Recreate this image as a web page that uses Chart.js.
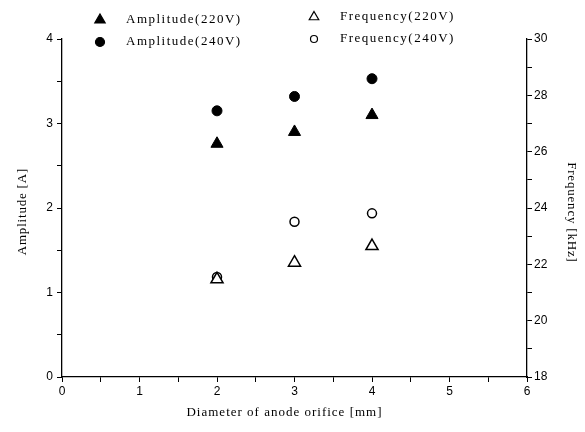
<!DOCTYPE html>
<html>
<head>
<meta charset="utf-8">
<script src="https://cdn.jsdelivr.net/npm/chart.js@4/dist/chart.umd.min.js"></script>
<style>
  html, body { margin: 0; padding: 0; background: #fff; }
  #wrap { width: 585px; height: 432px; }
</style>
</head>
<body>
<div id="wrap"><canvas id="c" width="585" height="432"></canvas></div>
<script>
// diameter of anode orifice [mm]
const diameters = [2, 3, 4];
// amplitude [A]
const amp220 = [2.76, 2.90, 3.10];
const amp240 = [3.15, 3.32, 3.53];
// frequency [kHz]
const freq220 = [21.47, 22.06, 22.65];
const freq240 = [21.55, 23.51, 23.81];

const legendLabels = ["Amplitude(220V)", "Amplitude(240V)", "Frequency(220V)", "Frequency(240V)"];
const xTitle = "Diameter of anode orifice [mm]";
const yTitle = "Amplitude [A]";
const y1Title = "Frequency [kHz]";

const serif = "'Liberation Serif', 'DejaVu Serif', serif";
const sans = "'Liberation Sans', Arial, sans-serif";

function pts(ys) {
  return diameters.map((x, i) => ({ x: x, y: ys[i] }));
}

function spacedText(ctx, text, x, y, angle, spacing) {
  ctx.save();
  ctx.translate(x, y);
  ctx.rotate(angle);
  ctx.letterSpacing = spacing + "px";
  ctx.textAlign = "center";
  ctx.textBaseline = "middle";
  ctx.fillText(text, spacing / 2, 0);
  ctx.restore();
}

// legend + axis titles drawn by hand (the original uses wide letter spacing)
const annotate = {
  id: "annotate",
  afterDraw(chart) {
    const ctx = chart.ctx;
    const items = [
      { x: 100, y: 20, style: "triangle", fill: true, text: legendLabels[0] },
      { x: 100, y: 42, style: "circle", fill: true, text: legendLabels[1] },
      { x: 314, y: 17, style: "triangle", fill: false, text: legendLabels[2] },
      { x: 314, y: 39, style: "circle", fill: false, text: legendLabels[3] }
    ];
    ctx.save();
    items.forEach(it => {
      ctx.beginPath();
      if (it.style === "triangle") {
        const r = it.fill ? 6 : 5.5;
        ctx.moveTo(it.x, it.y - r);
        ctx.lineTo(it.x + r * 0.866, it.y + r / 2);
        ctx.lineTo(it.x - r * 0.866, it.y + r / 2);
        ctx.closePath();
      } else {
        ctx.arc(it.x, it.y, it.fill ? 4.5 : 3.5, 0, Math.PI * 2);
      }
      ctx.lineWidth = 1.2;
      ctx.strokeStyle = "#000";
      ctx.fillStyle = it.fill ? "#000" : "#fff";
      ctx.fill();
      ctx.stroke();
      ctx.fillStyle = "#000";
      ctx.font = "13px " + serif;
      ctx.textBaseline = "middle";
      ctx.textAlign = "left";
      ctx.letterSpacing = "1.5px";
      ctx.fillText(it.text, it.x + 26, it.y);
      ctx.letterSpacing = "0px";
    });

    ctx.fillStyle = "#000";
    ctx.font = "13px " + serif;
    const midY = 212;
    spacedText(ctx, xTitle, 284, 413, 0, 1.0);
    spacedText(ctx, yTitle, 23, midY, -Math.PI / 2, 0.8);
    spacedText(ctx, y1Title, 571, midY, Math.PI / 2, 0.8);
    ctx.restore();
  }
};

const tickGrid = {
  display: true,
  drawOnChartArea: false,
  drawTicks: true,
  tickLength: 5,
  color: "#000",
  lineWidth: 1
};

new Chart(document.getElementById("c"), {
  type: "scatter",
  data: {
    datasets: [
      {
        label: legendLabels[0], data: pts(amp220), yAxisID: "y",
        pointStyle: "triangle", pointRadius: 7, pointHoverRadius: 7,
        backgroundColor: "#000", borderColor: "#000", borderWidth: 1, order: 1
      },
      {
        label: legendLabels[1], data: pts(amp240), yAxisID: "y",
        pointStyle: "circle", pointRadius: 5, pointHoverRadius: 5,
        backgroundColor: "#000", borderColor: "#000", borderWidth: 1, order: 2
      },
      {
        label: legendLabels[2], data: pts(freq220), yAxisID: "y1",
        pointStyle: "triangle", pointRadius: 7, pointHoverRadius: 7,
        backgroundColor: "#fff", borderColor: "#000", borderWidth: 1.5, order: 3
      },
      {
        label: legendLabels[3], data: pts(freq240), yAxisID: "y1",
        pointStyle: "circle", pointRadius: 4.5, pointHoverRadius: 4.5,
        backgroundColor: "#fff", borderColor: "#000", borderWidth: 1.5, order: 4
      }
    ]
  },
  options: {
    responsive: false,
    animation: false,
    events: [],
    layout: { padding: { top: 39, left: 0, right: 0, bottom: 0 } },
    plugins: {
      legend: { display: false },
      tooltip: { enabled: false }
    },
    scales: {
      x: {
        type: "linear", position: "bottom", min: 0, max: 6,
        afterFit(s) { s.height = 55; },
        grid: tickGrid,
        border: { display: true, color: "#000", width: 1.3 },
        ticks: {
          stepSize: 0.5, autoSkip: false, maxRotation: 0, padding: 2,
          color: "#000", font: { family: sans, size: 12 },
          callback: v => Number.isInteger(v) ? String(v) : ""
        },
        title: { display: false, text: xTitle }
      },
      y: {
        type: "linear", position: "left", min: 0, max: 4,
        afterFit(s) { s.width = 62; },
        grid: tickGrid,
        border: { display: true, color: "#000", width: 1.3 },
        ticks: {
          stepSize: 0.5, autoSkip: false, padding: 4,
          color: "#000", font: { family: sans, size: 12 },
          callback: v => Number.isInteger(v) ? String(v) : ""
        },
        title: { display: false, text: yTitle }
      },
      y1: {
        type: "linear", position: "right", min: 18, max: 30,
        afterFit(s) { s.width = 58; },
        grid: tickGrid,
        border: { display: true, color: "#000", width: 1.3 },
        ticks: {
          stepSize: 1, autoSkip: false, padding: 2,
          color: "#000", font: { family: sans, size: 12 },
          callback: v => (v % 2 === 0) ? String(v) : ""
        },
        title: { display: false, text: y1Title }
      }
    }
  },
  plugins: [annotate]
});
</script>
</body>
</html>
